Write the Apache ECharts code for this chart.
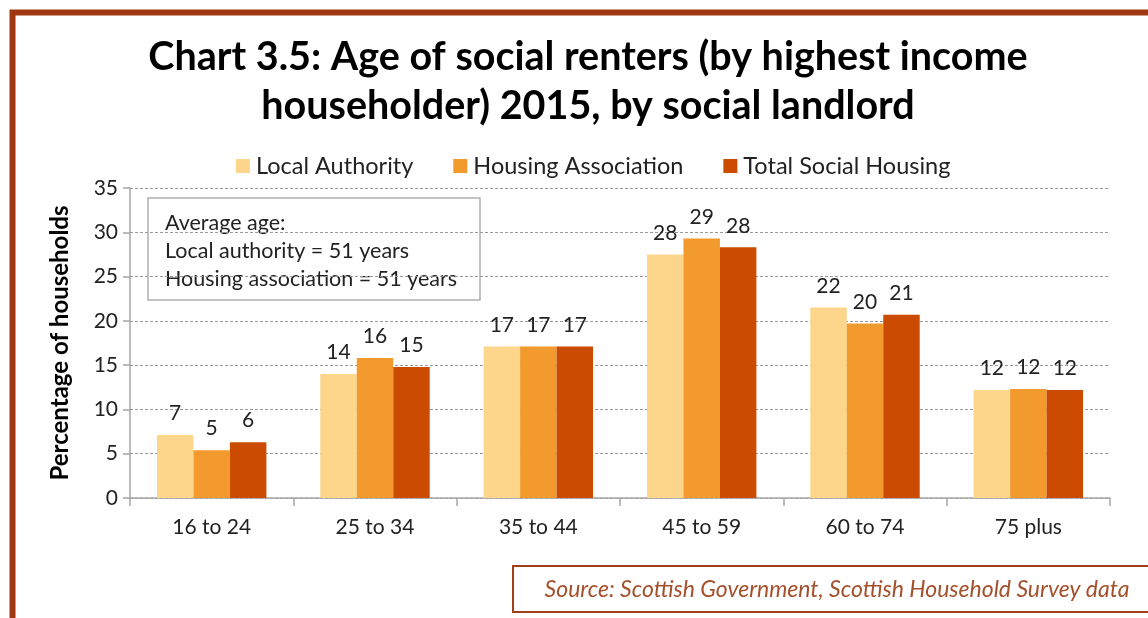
<!DOCTYPE html>
<html>
<head>
<meta charset="utf-8">
<script src="https://cdn.jsdelivr.net/npm/echarts@6/dist/echarts.min.js"></script>
<style>
  html, body { margin: 0; padding: 0; background: #fff; }
  #chart { width: 1148px; height: 618px; }
</style>
</head>
<body>
<div id="chart"></div>
<script>
// 数据
var ageGroups = ['16 to 24', '25 to 34', '35 to 44', '45 to 59', '60 to 74', '75 plus'];
var localAuthority = [7.1, 14.0, 17.1, 27.5, 21.5, 12.2];
var housingAssociation = [5.4, 15.8, 17.1, 29.3, 19.7, 12.3];
var totalSocial = [6.3, 14.8, 17.1, 28.3, 20.7, 12.2];
var seriesNames = ['Local Authority', 'Housing Association', 'Total Social Housing'];
var seriesColors = ['#FDD68B', '#F29A2D', '#CB4B03'];

var font = 'Lato';
var chart = echarts.init(document.getElementById('chart'));

function makeSeries(name, values, color) {
  return {
    name: name,
    type: 'bar',
    data: values,
    barGap: '0%',
    barCategoryGap: '33%',
    itemStyle: { color: color },
    label: {
      show: true,
      position: 'top',
      distance: 11,
      fontFamily: font,
      fontSize: 21,
      color: '#222',
      formatter: function (p) { return Math.round(p.value); }
    }
  };
}

var option = {
  backgroundColor: '#fff',
  legend: {
    data: seriesNames,
    left: 231,
    top: 149,
    itemWidth: 14,
    itemHeight: 14,
    itemGap: 40,
    icon: 'rect',
    textStyle: { fontFamily: font, fontSize: 23.5, color: '#222', padding: [0, 0, 0, 1] }
  },
  grid: { left: 130, right: 38, top: 188, bottom: 120, containLabel: false },
  xAxis: {
    type: 'category',
    data: ageGroups,
    axisLine: { lineStyle: { color: '#a6a6a6', width: 1.5 } },
    axisTick: { show: true, length: 8, lineStyle: { color: '#a6a6a6', width: 1.5 } },
    axisLabel: { fontFamily: font, fontSize: 21, color: '#222', margin: 19 }
  },
  yAxis: {
    type: 'value',
    min: 0,
    max: 35,
    interval: 5,
    name: 'Percentage of households',
    nameLocation: 'middle',
    nameGap: 58,
    nameTextStyle: { fontFamily: font, fontWeight: 'bold', fontSize: 24, color: '#000' },
    axisLine: { show: true, lineStyle: { color: '#a6a6a6', width: 1.5 } },
    axisTick: { show: true, length: 7, lineStyle: { color: '#a6a6a6', width: 1.5 } },
    axisLabel: { fontFamily: font, fontSize: 21, color: '#222', margin: 12 },
    splitLine: { lineStyle: { color: '#999', type: [3, 2], width: 1 } }
  },
  series: [
    makeSeries(seriesNames[0], localAuthority, seriesColors[0]),
    makeSeries(seriesNames[1], housingAssociation, seriesColors[1]),
    makeSeries(seriesNames[2], totalSocial, seriesColors[2])
  ],
  graphic: [
    // 标题
    {
      type: 'text',
      z: 20,
      x: 588,
      y: 82,
      style: {
        text: 'Chart 3.5: Age of social renters (by highest income\nhouseholder) 2015, by social landlord',
        fontFamily: font,
        fontWeight: 'bold',
        fontSize: 39.5,
        lineHeight: 49,
        fill: '#000',
        align: 'center',
        verticalAlign: 'middle'
      }
    },
    // 外框
    {
      type: 'polyline',
      z: 20,
      silent: true,
      shape: { points: [[12.5, 618], [12.5, 12.5], [1148, 12.5]] },
      style: { stroke: '#9E3712', lineWidth: 6, fill: null }
    },
    // 平均年龄说明框
    {
      type: 'group',
      z: 20,
      children: [
        {
          type: 'rect',
          shape: { x: 148, y: 198, width: 332, height: 102 },
          style: { fill: '#fff', stroke: '#b0b0b0', lineWidth: 1.5 }
        },
        {
          type: 'text',
          x: 165,
          y: 209,
          style: {
            text: 'Average age:\nLocal authority = 51 years\nHousing association = 51 years',
            fontFamily: font,
            fontSize: 21.5,
            lineHeight: 28,
            fill: '#222'
          }
        }
      ]
    },
    // 数据来源
    {
      type: 'group',
      z: 20,
      children: [
        {
          type: 'rect',
          shape: { x: 513, y: 566, width: 700, height: 46 },
          style: { fill: '#fff', stroke: '#A23F1A', lineWidth: 2 }
        },
        {
          type: 'text',
          x: 837,
          y: 590,
          style: {
            text: 'Source: Scottish Government, Scottish Household Survey data',
            fontFamily: font,
            fontStyle: 'italic',
            fontSize: 23,
            fill: '#A5502C',
            align: 'center',
            verticalAlign: 'middle'
          }
        }
      ]
    }
  ]
};

chart.setOption(option);
</script>
</body>
</html>
